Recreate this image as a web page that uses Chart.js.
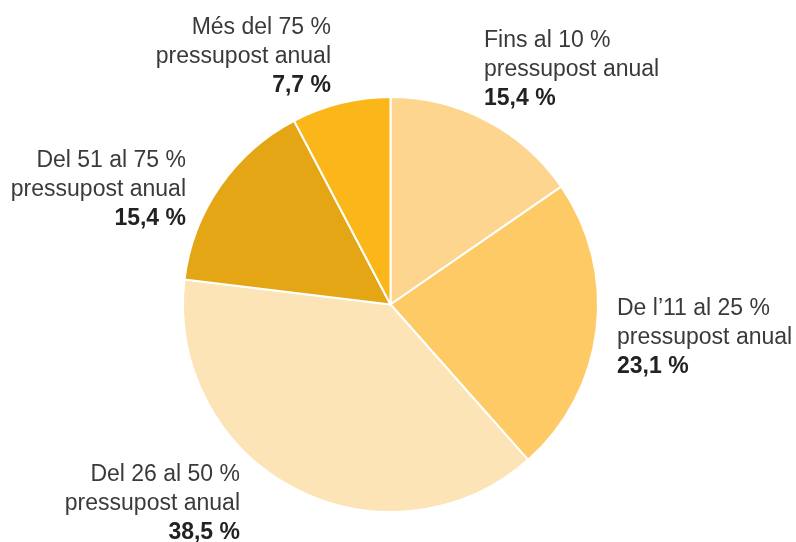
<!DOCTYPE html>
<html>
<head>
<meta charset="utf-8">
<script src="https://cdn.jsdelivr.net/npm/chart.js@4"></script>
<style>
  html, body { margin: 0; padding: 0; background: #fff; }
  #wrap { width: 796px; height: 542px; position: relative; }
</style>
</head>
<body>
<div id="wrap"><canvas id="chart"></canvas></div>
<script>
// Data
const categories = ['Fins al 10 %', 'De l\u201911 al 25 %', 'Del 26 al 50 %', 'Del 51 al 75 %', 'M\u00e9s del 75 %'];
const values = [15.4, 23.1, 38.5, 15.4, 7.7];
const valueLabels = ['15,4 %', '23,1 %', '38,5 %', '15,4 %', '7,7 %'];
const subLabel = 'pressupost anual';
const colors = ['#FDD58F', '#FDCA66', '#FDE4B6', '#E5A615', '#FBB719'];

// where each label block sits (x anchor, first line baseline, alignment)
const labelSpots = [
  { x: 484, y: 47, align: 'left' },
  { x: 617, y: 315, align: 'left' },
  { x: 240, y: 481, align: 'right' },
  { x: 186, y: 167, align: 'right' },
  { x: 331, y: 34, align: 'right' }
];

const labelPlugin = {
  id: 'sliceLabels',
  afterDraw(chart) {
    const ctx = chart.ctx;
    ctx.save();
    ctx.textBaseline = 'alphabetic';
    labelSpots.forEach((s, i) => {
      ctx.textAlign = s.align;
      ctx.fillStyle = '#3a3a3a';
      ctx.font = '23px "Liberation Sans", Helvetica, Arial, sans-serif';
      ctx.fillText(categories[i], s.x, s.y);
      ctx.fillText(subLabel, s.x, s.y + 29);
      ctx.fillStyle = '#222';
      ctx.font = 'bold 23px "Liberation Sans", Helvetica, Arial, sans-serif';
      ctx.fillText(valueLabels[i], s.x, s.y + 58);
    });
    ctx.restore();
  }
};

new Chart(document.getElementById('chart'), {
  type: 'pie',
  data: {
    labels: categories,
    datasets: [{
      data: values,
      backgroundColor: colors,
      borderColor: '#ffffff',
      borderWidth: 2
    }]
  },
  options: {
    responsive: true,
    maintainAspectRatio: false,
    animation: false,
    layout: {
      padding: { top: 96, bottom: 29, left: 182, right: 197 }
    },
    plugins: {
      legend: { display: false },
      tooltip: { enabled: false }
    }
  },
  plugins: [labelPlugin]
});
</script>
</body>
</html>
